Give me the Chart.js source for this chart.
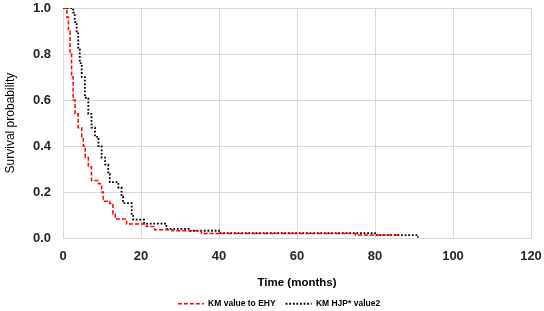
<!DOCTYPE html>
<html>
<head>
<meta charset="utf-8">
<script src="https://cdn.jsdelivr.net/npm/chart.js@4/dist/chart.umd.min.js"></script>
<style>
html,body{margin:0;padding:0;background:#fff;}
#wrap{width:544px;height:311px;position:relative;}
</style>
</head>
<body>
<div id="wrap"><canvas id="c" width="544" height="311"></canvas></div>
<script>
// Series 1: KM value to EHY (time in months, survival after step)
const redTimes = [0, 0.5, 1.0, 1.4, 1.8, 2.2, 2.6, 3.1, 3.9, 4.8, 5.2, 5.7, 6.5, 7.3, 9.1, 9.9, 10.3, 12.0, 12.8, 13.4, 16.3, 21.4, 23.5, 28.0, 35.5, 75.0, 86.0];
const redSurv  = [1.0, 1.0, 0.96, 0.90, 0.80, 0.70, 0.60, 0.54, 0.48, 0.44, 0.40, 0.35, 0.31, 0.25, 0.236, 0.20, 0.16, 0.15, 0.105, 0.083, 0.061, 0.05, 0.036, 0.032, 0.02, 0.013, 0.013];
// Series 2: KM HJP* value2
const blackTimes = [0, 1.8, 2.6, 3.0, 3.5, 3.9, 4.3, 4.8, 5.6, 6.5, 7.3, 8.2, 9.1, 9.9, 10.8, 11.6, 12.0, 14.2, 15.0, 15.4, 17.6, 18.0, 20.8, 26.5, 32.6, 40.0, 80.0, 90.0, 91.0];
const blackSurv  = [1.0, 1.0, 0.98, 0.94, 0.89, 0.82, 0.76, 0.70, 0.61, 0.54, 0.48, 0.44, 0.40, 0.35, 0.32, 0.28, 0.243, 0.22, 0.18, 0.152, 0.105, 0.08, 0.063, 0.04, 0.032, 0.022, 0.013, 0.013, 0.003];
const seriesNames = ['KM value to EHY', 'KM HJP* value2'];
const xTicks = [0, 20, 40, 60, 80, 100, 120];
const yTicks = [0, 0.2, 0.4, 0.6, 0.8, 1.0];

const toPts = (ts, vs) => ts.map((t, i) => ({x: t, y: vs[i]}));

const legendShift = {
  id: 'legendShift',
  afterLayout(chart) {
    if (chart.legend) { chart.legend.left += 7; chart.legend.right += 7; }
  }
};

new Chart(document.getElementById('c'), {
  type: 'line',
  data: {
    datasets: [
      {label: seriesNames[0], data: toPts(redTimes, redSurv), borderColor: '#ff0000', borderWidth: 1.5,
       borderDash: [4, 2], stepped: true, pointRadius: 0, fill: false},
      {label: seriesNames[1], data: toPts(blackTimes, blackSurv), borderColor: '#000000', borderWidth: 1.8,
       borderDash: [1.8, 1.8], stepped: true, pointRadius: 0, fill: false}
    ]
  },
  plugins: [legendShift],
  options: {
    responsive: false,
    animation: false,
    layout: {padding: {left: 0, right: 0, top: 0, bottom: -7}},
    plugins: {
      legend: {
        position: 'bottom',
        labels: {
          usePointStyle: true, pointStyle: 'line', pointStyleWidth: 26,
          color: '#000', font: {family: 'Liberation Sans, Arial', size: 8.5, weight: 'bold'},
          padding: 10,
          generateLabels: chart => {
            const items = Chart.defaults.plugins.legend.labels.generateLabels(chart);
            items.forEach(it => {
              const ds = chart.data.datasets[it.datasetIndex];
              it.lineDash = ds.borderDash;
              it.lineWidth = ds.borderWidth;
              it.strokeStyle = ds.borderColor;
              it.pointStyle = 'line';
            });
            return items;
          }
        }
      },
      tooltip: {enabled: false}
    },
    scales: {
      x: {
        type: 'linear', min: 0, max: 120,
        afterBuildTicks: s => { s.ticks = xTicks.map(v => ({value: v})); },
        afterFit: s => { s.paddingLeft = 0; s.paddingRight = 13; },
        ticks: {color: '#262626', font: {family: 'Liberation Sans, Arial', size: 13, weight: 'bold'}, padding: 11},
        grid: {color: '#d9d9d9', drawTicks: false, lineWidth: 1},
        border: {display: false},
        title: {display: true, text: 'Time (months)', color: '#000', font: {family: 'Liberation Sans, Arial', size: 11.5, weight: 'bold'}, padding: {top: 0, bottom: 0}}
      },
      y: {
        type: 'linear', min: 0, max: 1,
        afterBuildTicks: s => { s.ticks = yTicks.map(v => ({value: v})); },
        afterFit: s => { s.width = 63; s.paddingTop = 8; s.paddingBottom = 0; },
        ticks: {color: '#262626', font: {family: 'Liberation Sans, Arial', size: 13, weight: 'bold'}, padding: 12,
                callback: v => v.toFixed(1)},
        grid: {color: '#d9d9d9', drawTicks: false, lineWidth: 1},
        border: {display: false},
        title: {display: true, text: 'Survival probability', color: '#000', font: {family: 'Liberation Sans, Arial', size: 12}, padding: {top: 3, bottom: 0}}
      }
    }
  }
});
</script>
</body>
</html>
